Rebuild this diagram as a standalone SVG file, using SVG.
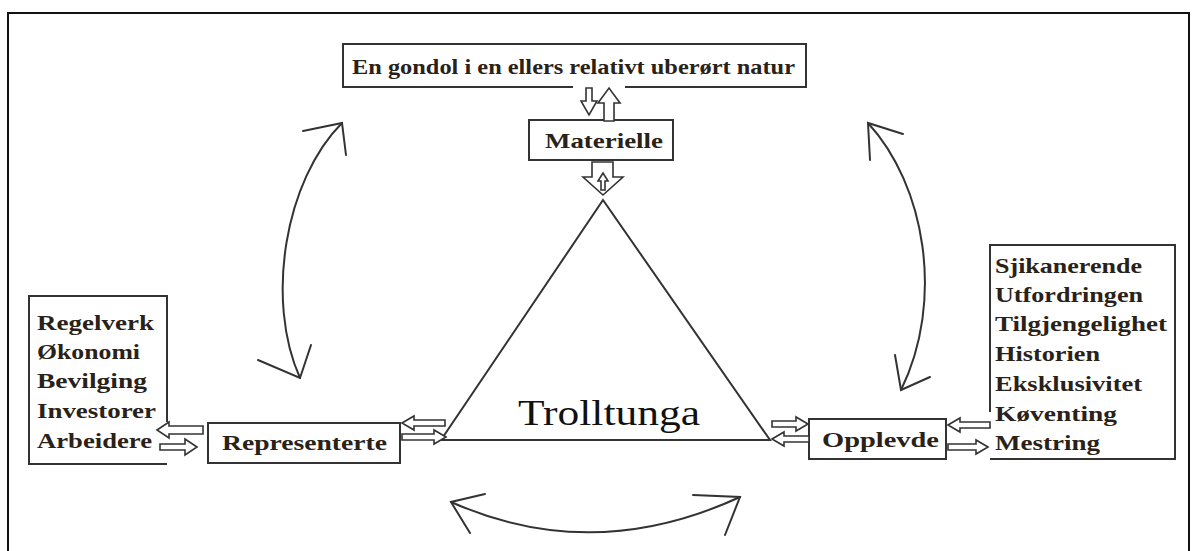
<svg xmlns="http://www.w3.org/2000/svg" width="1198" height="551" viewBox="0 0 1198 551">
<style>
.frame{fill:none;stroke:#111;stroke-width:2}
.box{fill:#fff;stroke:#333;stroke-width:2}
.line{fill:none;stroke:#333;stroke-width:2}
.arr{fill:#fff;stroke:#333;stroke-width:1.6;stroke-linejoin:miter}
.curve{fill:none;stroke:#333;stroke-width:2;stroke-linecap:round}
.t{font-family:"Liberation Serif",serif;font-size:22px;font-weight:bold;fill:#2a2218}
.big{font-family:"Liberation Serif",serif;font-size:36px;fill:#111}
</style>
<rect width="1198" height="551" fill="#fff"/>
<rect class="frame" x="8" y="13" width="1181" height="560"/>

<g id="node-gondol">
<path class="line" d="M573,87 H343 V44 H806 V87 H625"/>
<text class="t" x="352" y="74" textLength="443" lengthAdjust="spacingAndGlyphs">En gondol i en ellers relativt uberørt natur</text>
</g>

<g id="node-materielle">
<rect class="box" x="529" y="120" width="144" height="40"/>
<text class="t" x="545" y="148" textLength="118" lengthAdjust="spacingAndGlyphs">Materielle</text>
</g>

<g id="node-trolltunga">
<polygon points="603,200 441,440 770,440" fill="none" stroke="#333" stroke-width="2"/>
<text class="big" x="518" y="425" textLength="182" lengthAdjust="spacingAndGlyphs">Trolltunga</text>
</g>

<g id="node-representerte">
<rect class="box" x="208" y="423" width="192" height="40"/>
<text class="t" x="222" y="450" textLength="165" lengthAdjust="spacingAndGlyphs">Representerte</text>
</g>

<g id="node-opplevde">
<rect class="box" x="809" y="419" width="137" height="40"/>
<text class="t" x="822" y="447" textLength="117" lengthAdjust="spacingAndGlyphs">Opplevde</text>
</g>

<g id="node-left-list">
<path class="line" d="M167,422 V296 H29 V464 H167"/>
<text class="t" x="37" y="330" textLength="117" lengthAdjust="spacingAndGlyphs">Regelverk</text>
<text class="t" x="37" y="359" textLength="103" lengthAdjust="spacingAndGlyphs">Økonomi</text>
<text class="t" x="37" y="388" textLength="110" lengthAdjust="spacingAndGlyphs">Bevilging</text>
<text class="t" x="37" y="418" textLength="119" lengthAdjust="spacingAndGlyphs">Investorer</text>
<text class="t" x="37" y="448" textLength="115" lengthAdjust="spacingAndGlyphs">Arbeidere</text>
</g>

<g id="node-right-list">
<path class="line" d="M990,412 V245 H1175 V459 H990"/>
<text class="t" x="995" y="273" textLength="147" lengthAdjust="spacingAndGlyphs">Sjikanerende</text>
<text class="t" x="995" y="302" textLength="148" lengthAdjust="spacingAndGlyphs">Utfordringen</text>
<text class="t" x="995" y="331" textLength="172" lengthAdjust="spacingAndGlyphs">Tilgjengelighet</text>
<text class="t" x="995" y="361" textLength="105" lengthAdjust="spacingAndGlyphs">Historien</text>
<text class="t" x="995" y="391" textLength="147" lengthAdjust="spacingAndGlyphs">Eksklusivitet</text>
<text class="t" x="995" y="421" textLength="122" lengthAdjust="spacingAndGlyphs">Køventing</text>
<text class="t" x="995" y="450" textLength="105" lengthAdjust="spacingAndGlyphs">Mestring</text>
</g>

<g id="connectors">
<!-- top box <-> Materielle -->
<polygon class="arr" points="586,88 592,88 592,101 597,101 589,115 581,101 586,101"/>
<polygon class="arr" points="604,121 614,121 614,103 620,103 609,88 598,103 604,103"/>
<!-- Materielle -> triangle -->
<polygon class="arr" points="592,162 613,162 613,177 623,177 603,195 583,177 592,177"/>
<polygon class="arr" points="601,190 605,190 605,181 608,181 603,173 598,181 601,181"/>
<!-- left list <-> Representerte -->
<polygon class="arr" points="157,430 169,422 169,426 203,426 203,434 169,434 169,438"/>
<polygon class="arr" points="197,447 185,439 185,444 160,444 160,450 185,450 185,455"/>
<!-- Representerte <-> triangle -->
<polygon class="arr" points="402,423 414,416 414,420 445,420 445,426 414,426 414,430"/>
<polygon class="arr" points="446,437 434,430 434,434 402,434 402,440 434,440 434,444"/>
<!-- triangle <-> Opplevde -->
<polygon class="arr" points="808,424 796,417 796,421 772,421 772,427 796,427 796,431"/>
<polygon class="arr" points="772,439 784,432 784,436 809,436 809,442 784,442 784,446"/>
<!-- Opplevde <-> right list -->
<polygon class="arr" points="948,425 960,418 960,422 990,422 990,428 960,428 960,432"/>
<polygon class="arr" points="988,447 976,440 976,444 948,444 948,450 976,450 976,454"/>
<!-- curved double arrows -->
<path class="curve" d="M342,123 C285,180 265,300 300,378"/>
<polyline class="curve" points="303,131 342,123 346,155"/>
<polyline class="curve" points="258,360 300,378 311,345"/>
<path class="curve" d="M868,123 C925,185 945,300 901,390"/>
<polyline class="curve" points="903,134 868,123 870,160"/>
<polyline class="curve" points="895,355 901,390 930,377"/>
<path class="curve" d="M451,502 Q593,565 740,497"/>
<polyline class="curve" points="485,494 451,502 470,533"/>
<polyline class="curve" points="693,495 740,497 725,535"/>
</g>
</svg>
